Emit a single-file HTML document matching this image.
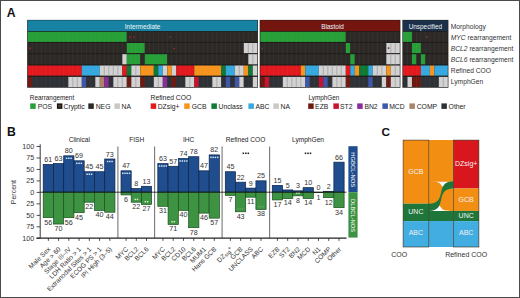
<!DOCTYPE html>
<html><head><meta charset="utf-8"><style>
html,body{margin:0;padding:0;background:#fff;}
body{width:520px;height:298px;overflow:hidden;}
svg{display:block;font-family:"Liberation Sans", sans-serif;}
</style></head><body>
<svg width="520" height="298" viewBox="0 0 520 298">
<rect x="0" y="0" width="520" height="298" fill="#fff"/>
<text x="6.8" y="16.7" font-size="12.2" font-weight="bold" fill="#111">A</text>
<rect x="27.20" y="19.90" width="230.70" height="67.80" fill="#1e1c1a"/>
<rect x="27.80" y="20.30" width="229.50" height="10.80" fill="#1882a2"/>
<text x="142.6" y="28.6" font-size="6.4" fill="#eef6fa" text-anchor="middle">Intermediate</text>
<rect x="27.80" y="31.80" width="99.00" height="10.10" fill="#27a038"/>
<rect x="126.80" y="31.80" width="130.50" height="10.10" fill="#2c2926"/>
<rect x="27.80" y="43.00" width="99.00" height="10.10" fill="#2c2926"/>
<rect x="126.80" y="43.00" width="18.00" height="10.10" fill="#27a038"/>
<rect x="144.80" y="43.00" width="99.00" height="10.10" fill="#2c2926"/>
<rect x="243.80" y="43.00" width="13.50" height="10.10" fill="#d2d2d2"/>
<line x1="248.30" y1="43.00" x2="248.30" y2="53.10" stroke="#a2a2a2" stroke-width="0.7"/>
<line x1="252.80" y1="43.00" x2="252.80" y2="53.10" stroke="#a2a2a2" stroke-width="0.7"/>
<rect x="27.80" y="54.20" width="94.50" height="10.10" fill="#2c2926"/>
<rect x="122.30" y="54.20" width="4.50" height="10.10" fill="#d2d2d2"/>
<rect x="126.80" y="54.20" width="13.50" height="10.10" fill="#27a038"/>
<rect x="140.30" y="54.20" width="4.50" height="10.10" fill="#2c2926"/>
<rect x="144.80" y="54.20" width="22.50" height="10.10" fill="#27a038"/>
<rect x="167.30" y="54.20" width="81.00" height="10.10" fill="#2c2926"/>
<rect x="248.30" y="54.20" width="9.00" height="10.10" fill="#d2d2d2"/>
<line x1="252.80" y1="54.20" x2="252.80" y2="64.30" stroke="#a2a2a2" stroke-width="0.7"/>
<rect x="27.80" y="65.50" width="54.00" height="10.10" fill="#e3191e"/>
<rect x="81.80" y="65.50" width="18.00" height="10.10" fill="#36a9e1"/>
<rect x="99.80" y="65.50" width="22.50" height="10.10" fill="#d2d2d2"/>
<line x1="104.30" y1="65.50" x2="104.30" y2="75.60" stroke="#a2a2a2" stroke-width="0.7"/>
<line x1="108.80" y1="65.50" x2="108.80" y2="75.60" stroke="#a2a2a2" stroke-width="0.7"/>
<line x1="113.30" y1="65.50" x2="113.30" y2="75.60" stroke="#a2a2a2" stroke-width="0.7"/>
<line x1="117.80" y1="65.50" x2="117.80" y2="75.60" stroke="#a2a2a2" stroke-width="0.7"/>
<rect x="122.30" y="65.50" width="4.50" height="10.10" fill="#e3191e"/>
<rect x="126.80" y="65.50" width="4.50" height="10.10" fill="#0f7a35"/>
<rect x="131.30" y="65.50" width="9.00" height="10.10" fill="#d2d2d2"/>
<line x1="135.80" y1="65.50" x2="135.80" y2="75.60" stroke="#a2a2a2" stroke-width="0.7"/>
<rect x="140.30" y="65.50" width="13.50" height="10.10" fill="#f7941d"/>
<rect x="153.80" y="65.50" width="4.50" height="10.10" fill="#0f7a35"/>
<rect x="158.30" y="65.50" width="4.50" height="10.10" fill="#36a9e1"/>
<rect x="162.80" y="65.50" width="4.50" height="10.10" fill="#d2d2d2"/>
<rect x="167.30" y="65.50" width="4.50" height="10.10" fill="#f7941d"/>
<rect x="171.80" y="65.50" width="4.50" height="10.10" fill="#d2d2d2"/>
<rect x="176.30" y="65.50" width="18.00" height="10.10" fill="#e3191e"/>
<rect x="194.30" y="65.50" width="27.00" height="10.10" fill="#f7941d"/>
<rect x="221.30" y="65.50" width="4.50" height="10.10" fill="#0f7a35"/>
<rect x="225.80" y="65.50" width="9.00" height="10.10" fill="#36a9e1"/>
<rect x="234.80" y="65.50" width="9.00" height="10.10" fill="#d2d2d2"/>
<line x1="239.30" y1="65.50" x2="239.30" y2="75.60" stroke="#a2a2a2" stroke-width="0.7"/>
<rect x="243.80" y="65.50" width="4.50" height="10.10" fill="#f7941d"/>
<rect x="248.30" y="65.50" width="4.50" height="10.10" fill="#0f7a35"/>
<rect x="252.80" y="65.50" width="4.50" height="10.10" fill="#d2d2d2"/>
<rect x="27.80" y="76.90" width="4.50" height="10.10" fill="#6e1a12"/>
<rect x="32.30" y="76.90" width="36.00" height="10.10" fill="#2e3236"/>
<rect x="68.30" y="76.90" width="13.50" height="10.10" fill="#d2d2d2"/>
<line x1="72.80" y1="76.90" x2="72.80" y2="87.00" stroke="#a2a2a2" stroke-width="0.7"/>
<line x1="77.30" y1="76.90" x2="77.30" y2="87.00" stroke="#a2a2a2" stroke-width="0.7"/>
<rect x="81.80" y="76.90" width="4.50" height="10.10" fill="#3d57ad"/>
<rect x="86.30" y="76.90" width="9.00" height="10.10" fill="#2e3236"/>
<rect x="95.30" y="76.90" width="4.50" height="10.10" fill="#d2d2d2"/>
<rect x="99.80" y="76.90" width="4.50" height="10.10" fill="#a98467"/>
<rect x="104.30" y="76.90" width="4.50" height="10.10" fill="#8b2c9c"/>
<rect x="108.80" y="76.90" width="4.50" height="10.10" fill="#2e3236"/>
<rect x="113.30" y="76.90" width="13.50" height="10.10" fill="#d2d2d2"/>
<line x1="117.80" y1="76.90" x2="117.80" y2="87.00" stroke="#a2a2a2" stroke-width="0.7"/>
<line x1="122.30" y1="76.90" x2="122.30" y2="87.00" stroke="#a2a2a2" stroke-width="0.7"/>
<rect x="126.80" y="76.90" width="4.50" height="10.10" fill="#6e1a12"/>
<rect x="131.30" y="76.90" width="9.00" height="10.10" fill="#d2d2d2"/>
<line x1="135.80" y1="76.90" x2="135.80" y2="87.00" stroke="#a2a2a2" stroke-width="0.7"/>
<rect x="140.30" y="76.90" width="4.50" height="10.10" fill="#6e1a12"/>
<rect x="144.80" y="76.90" width="9.00" height="10.10" fill="#2e3236"/>
<rect x="153.80" y="76.90" width="9.00" height="10.10" fill="#d2d2d2"/>
<line x1="158.30" y1="76.90" x2="158.30" y2="87.00" stroke="#a2a2a2" stroke-width="0.7"/>
<rect x="162.80" y="76.90" width="4.50" height="10.10" fill="#8b2c9c"/>
<rect x="167.30" y="76.90" width="4.50" height="10.10" fill="#2e3236"/>
<rect x="171.80" y="76.90" width="4.50" height="10.10" fill="#6e1a12"/>
<rect x="176.30" y="76.90" width="9.00" height="10.10" fill="#2e3236"/>
<rect x="185.30" y="76.90" width="9.00" height="10.10" fill="#d2d2d2"/>
<line x1="189.80" y1="76.90" x2="189.80" y2="87.00" stroke="#a2a2a2" stroke-width="0.7"/>
<rect x="194.30" y="76.90" width="4.50" height="10.10" fill="#c8132f"/>
<rect x="198.80" y="76.90" width="13.50" height="10.10" fill="#2e3236"/>
<rect x="212.30" y="76.90" width="9.00" height="10.10" fill="#d2d2d2"/>
<line x1="216.80" y1="76.90" x2="216.80" y2="87.00" stroke="#a2a2a2" stroke-width="0.7"/>
<rect x="221.30" y="76.90" width="4.50" height="10.10" fill="#2e3236"/>
<rect x="225.80" y="76.90" width="4.50" height="10.10" fill="#3d57ad"/>
<rect x="230.30" y="76.90" width="4.50" height="10.10" fill="#2e3236"/>
<rect x="234.80" y="76.90" width="4.50" height="10.10" fill="#3d57ad"/>
<rect x="239.30" y="76.90" width="4.50" height="10.10" fill="#d2d2d2"/>
<rect x="243.80" y="76.90" width="9.00" height="10.10" fill="#2e3236"/>
<rect x="252.80" y="76.90" width="4.50" height="10.10" fill="#d2d2d2"/>
<line x1="32.30" y1="31.80" x2="32.30" y2="87.00" stroke="#9a9a9a" stroke-opacity="0.15" stroke-width="0.6"/>
<line x1="36.80" y1="31.80" x2="36.80" y2="87.00" stroke="#9a9a9a" stroke-opacity="0.15" stroke-width="0.6"/>
<line x1="41.30" y1="31.80" x2="41.30" y2="87.00" stroke="#9a9a9a" stroke-opacity="0.15" stroke-width="0.6"/>
<line x1="45.80" y1="31.80" x2="45.80" y2="87.00" stroke="#9a9a9a" stroke-opacity="0.15" stroke-width="0.6"/>
<line x1="50.30" y1="31.80" x2="50.30" y2="87.00" stroke="#9a9a9a" stroke-opacity="0.15" stroke-width="0.6"/>
<line x1="54.80" y1="31.80" x2="54.80" y2="87.00" stroke="#9a9a9a" stroke-opacity="0.15" stroke-width="0.6"/>
<line x1="59.30" y1="31.80" x2="59.30" y2="87.00" stroke="#9a9a9a" stroke-opacity="0.15" stroke-width="0.6"/>
<line x1="63.80" y1="31.80" x2="63.80" y2="87.00" stroke="#9a9a9a" stroke-opacity="0.15" stroke-width="0.6"/>
<line x1="68.30" y1="31.80" x2="68.30" y2="87.00" stroke="#9a9a9a" stroke-opacity="0.15" stroke-width="0.6"/>
<line x1="72.80" y1="31.80" x2="72.80" y2="87.00" stroke="#9a9a9a" stroke-opacity="0.15" stroke-width="0.6"/>
<line x1="77.30" y1="31.80" x2="77.30" y2="87.00" stroke="#9a9a9a" stroke-opacity="0.15" stroke-width="0.6"/>
<line x1="81.80" y1="31.80" x2="81.80" y2="87.00" stroke="#9a9a9a" stroke-opacity="0.15" stroke-width="0.6"/>
<line x1="86.30" y1="31.80" x2="86.30" y2="87.00" stroke="#9a9a9a" stroke-opacity="0.15" stroke-width="0.6"/>
<line x1="90.80" y1="31.80" x2="90.80" y2="87.00" stroke="#9a9a9a" stroke-opacity="0.15" stroke-width="0.6"/>
<line x1="95.30" y1="31.80" x2="95.30" y2="87.00" stroke="#9a9a9a" stroke-opacity="0.15" stroke-width="0.6"/>
<line x1="99.80" y1="31.80" x2="99.80" y2="87.00" stroke="#9a9a9a" stroke-opacity="0.15" stroke-width="0.6"/>
<line x1="104.30" y1="31.80" x2="104.30" y2="87.00" stroke="#9a9a9a" stroke-opacity="0.15" stroke-width="0.6"/>
<line x1="108.80" y1="31.80" x2="108.80" y2="87.00" stroke="#9a9a9a" stroke-opacity="0.15" stroke-width="0.6"/>
<line x1="113.30" y1="31.80" x2="113.30" y2="87.00" stroke="#9a9a9a" stroke-opacity="0.15" stroke-width="0.6"/>
<line x1="117.80" y1="31.80" x2="117.80" y2="87.00" stroke="#9a9a9a" stroke-opacity="0.15" stroke-width="0.6"/>
<line x1="122.30" y1="31.80" x2="122.30" y2="87.00" stroke="#9a9a9a" stroke-opacity="0.15" stroke-width="0.6"/>
<line x1="126.80" y1="31.80" x2="126.80" y2="87.00" stroke="#9a9a9a" stroke-opacity="0.15" stroke-width="0.6"/>
<line x1="131.30" y1="31.80" x2="131.30" y2="87.00" stroke="#9a9a9a" stroke-opacity="0.15" stroke-width="0.6"/>
<line x1="135.80" y1="31.80" x2="135.80" y2="87.00" stroke="#9a9a9a" stroke-opacity="0.15" stroke-width="0.6"/>
<line x1="140.30" y1="31.80" x2="140.30" y2="87.00" stroke="#9a9a9a" stroke-opacity="0.15" stroke-width="0.6"/>
<line x1="144.80" y1="31.80" x2="144.80" y2="87.00" stroke="#9a9a9a" stroke-opacity="0.15" stroke-width="0.6"/>
<line x1="149.30" y1="31.80" x2="149.30" y2="87.00" stroke="#9a9a9a" stroke-opacity="0.15" stroke-width="0.6"/>
<line x1="153.80" y1="31.80" x2="153.80" y2="87.00" stroke="#9a9a9a" stroke-opacity="0.15" stroke-width="0.6"/>
<line x1="158.30" y1="31.80" x2="158.30" y2="87.00" stroke="#9a9a9a" stroke-opacity="0.15" stroke-width="0.6"/>
<line x1="162.80" y1="31.80" x2="162.80" y2="87.00" stroke="#9a9a9a" stroke-opacity="0.15" stroke-width="0.6"/>
<line x1="167.30" y1="31.80" x2="167.30" y2="87.00" stroke="#9a9a9a" stroke-opacity="0.15" stroke-width="0.6"/>
<line x1="171.80" y1="31.80" x2="171.80" y2="87.00" stroke="#9a9a9a" stroke-opacity="0.15" stroke-width="0.6"/>
<line x1="176.30" y1="31.80" x2="176.30" y2="87.00" stroke="#9a9a9a" stroke-opacity="0.15" stroke-width="0.6"/>
<line x1="180.80" y1="31.80" x2="180.80" y2="87.00" stroke="#9a9a9a" stroke-opacity="0.15" stroke-width="0.6"/>
<line x1="185.30" y1="31.80" x2="185.30" y2="87.00" stroke="#9a9a9a" stroke-opacity="0.15" stroke-width="0.6"/>
<line x1="189.80" y1="31.80" x2="189.80" y2="87.00" stroke="#9a9a9a" stroke-opacity="0.15" stroke-width="0.6"/>
<line x1="194.30" y1="31.80" x2="194.30" y2="87.00" stroke="#9a9a9a" stroke-opacity="0.15" stroke-width="0.6"/>
<line x1="198.80" y1="31.80" x2="198.80" y2="87.00" stroke="#9a9a9a" stroke-opacity="0.15" stroke-width="0.6"/>
<line x1="203.30" y1="31.80" x2="203.30" y2="87.00" stroke="#9a9a9a" stroke-opacity="0.15" stroke-width="0.6"/>
<line x1="207.80" y1="31.80" x2="207.80" y2="87.00" stroke="#9a9a9a" stroke-opacity="0.15" stroke-width="0.6"/>
<line x1="212.30" y1="31.80" x2="212.30" y2="87.00" stroke="#9a9a9a" stroke-opacity="0.15" stroke-width="0.6"/>
<line x1="216.80" y1="31.80" x2="216.80" y2="87.00" stroke="#9a9a9a" stroke-opacity="0.15" stroke-width="0.6"/>
<line x1="221.30" y1="31.80" x2="221.30" y2="87.00" stroke="#9a9a9a" stroke-opacity="0.15" stroke-width="0.6"/>
<line x1="225.80" y1="31.80" x2="225.80" y2="87.00" stroke="#9a9a9a" stroke-opacity="0.15" stroke-width="0.6"/>
<line x1="230.30" y1="31.80" x2="230.30" y2="87.00" stroke="#9a9a9a" stroke-opacity="0.15" stroke-width="0.6"/>
<line x1="234.80" y1="31.80" x2="234.80" y2="87.00" stroke="#9a9a9a" stroke-opacity="0.15" stroke-width="0.6"/>
<line x1="239.30" y1="31.80" x2="239.30" y2="87.00" stroke="#9a9a9a" stroke-opacity="0.15" stroke-width="0.6"/>
<line x1="243.80" y1="31.80" x2="243.80" y2="87.00" stroke="#9a9a9a" stroke-opacity="0.15" stroke-width="0.6"/>
<line x1="248.30" y1="31.80" x2="248.30" y2="87.00" stroke="#9a9a9a" stroke-opacity="0.15" stroke-width="0.6"/>
<line x1="252.80" y1="31.80" x2="252.80" y2="87.00" stroke="#9a9a9a" stroke-opacity="0.15" stroke-width="0.6"/>
<rect x="259.70" y="19.90" width="140.70" height="67.80" fill="#1e1c1a"/>
<rect x="260.30" y="20.30" width="139.50" height="10.80" fill="#741510"/>
<text x="332.5" y="28.6" font-size="6.4" fill="#eef6fa" text-anchor="middle">Blastoid</text>
<rect x="260.30" y="31.80" width="85.50" height="10.10" fill="#27a038"/>
<rect x="345.80" y="31.80" width="54.00" height="10.10" fill="#2c2926"/>
<rect x="260.30" y="43.00" width="85.50" height="10.10" fill="#2c2926"/>
<rect x="345.80" y="43.00" width="4.50" height="10.10" fill="#27a038"/>
<rect x="350.30" y="43.00" width="36.00" height="10.10" fill="#2c2926"/>
<rect x="386.30" y="43.00" width="13.50" height="10.10" fill="#d2d2d2"/>
<line x1="390.80" y1="43.00" x2="390.80" y2="53.10" stroke="#a2a2a2" stroke-width="0.7"/>
<line x1="395.30" y1="43.00" x2="395.30" y2="53.10" stroke="#a2a2a2" stroke-width="0.7"/>
<rect x="260.30" y="54.20" width="90.00" height="10.10" fill="#2c2926"/>
<rect x="350.30" y="54.20" width="4.50" height="10.10" fill="#27a038"/>
<rect x="354.80" y="54.20" width="31.50" height="10.10" fill="#2c2926"/>
<rect x="386.30" y="54.20" width="13.50" height="10.10" fill="#d2d2d2"/>
<line x1="390.80" y1="54.20" x2="390.80" y2="64.30" stroke="#a2a2a2" stroke-width="0.7"/>
<line x1="395.30" y1="54.20" x2="395.30" y2="64.30" stroke="#a2a2a2" stroke-width="0.7"/>
<rect x="260.30" y="65.50" width="40.50" height="10.10" fill="#e3191e"/>
<rect x="300.80" y="65.50" width="4.50" height="10.10" fill="#f7941d"/>
<rect x="305.30" y="65.50" width="13.50" height="10.10" fill="#36a9e1"/>
<rect x="318.80" y="65.50" width="27.00" height="10.10" fill="#d2d2d2"/>
<line x1="323.30" y1="65.50" x2="323.30" y2="75.60" stroke="#a2a2a2" stroke-width="0.7"/>
<line x1="327.80" y1="65.50" x2="327.80" y2="75.60" stroke="#a2a2a2" stroke-width="0.7"/>
<line x1="332.30" y1="65.50" x2="332.30" y2="75.60" stroke="#a2a2a2" stroke-width="0.7"/>
<line x1="336.80" y1="65.50" x2="336.80" y2="75.60" stroke="#a2a2a2" stroke-width="0.7"/>
<line x1="341.30" y1="65.50" x2="341.30" y2="75.60" stroke="#a2a2a2" stroke-width="0.7"/>
<rect x="345.80" y="65.50" width="4.50" height="10.10" fill="#e3191e"/>
<rect x="350.30" y="65.50" width="4.50" height="10.10" fill="#36a9e1"/>
<rect x="354.80" y="65.50" width="4.50" height="10.10" fill="#f7941d"/>
<rect x="359.30" y="65.50" width="9.00" height="10.10" fill="#0f7a35"/>
<rect x="368.30" y="65.50" width="4.50" height="10.10" fill="#36a9e1"/>
<rect x="372.80" y="65.50" width="13.50" height="10.10" fill="#d2d2d2"/>
<line x1="377.30" y1="65.50" x2="377.30" y2="75.60" stroke="#a2a2a2" stroke-width="0.7"/>
<line x1="381.80" y1="65.50" x2="381.80" y2="75.60" stroke="#a2a2a2" stroke-width="0.7"/>
<rect x="386.30" y="65.50" width="4.50" height="10.10" fill="#f7941d"/>
<rect x="390.80" y="65.50" width="9.00" height="10.10" fill="#d2d2d2"/>
<line x1="395.30" y1="65.50" x2="395.30" y2="75.60" stroke="#a2a2a2" stroke-width="0.7"/>
<rect x="260.30" y="76.90" width="4.50" height="10.10" fill="#6e1a12"/>
<rect x="264.80" y="76.90" width="4.50" height="10.10" fill="#c8132f"/>
<rect x="269.30" y="76.90" width="13.50" height="10.10" fill="#2e3236"/>
<rect x="282.80" y="76.90" width="22.50" height="10.10" fill="#d2d2d2"/>
<line x1="287.30" y1="76.90" x2="287.30" y2="87.00" stroke="#a2a2a2" stroke-width="0.7"/>
<line x1="291.80" y1="76.90" x2="291.80" y2="87.00" stroke="#a2a2a2" stroke-width="0.7"/>
<line x1="296.30" y1="76.90" x2="296.30" y2="87.00" stroke="#a2a2a2" stroke-width="0.7"/>
<line x1="300.80" y1="76.90" x2="300.80" y2="87.00" stroke="#a2a2a2" stroke-width="0.7"/>
<rect x="305.30" y="76.90" width="4.50" height="10.10" fill="#3d57ad"/>
<rect x="309.80" y="76.90" width="9.00" height="10.10" fill="#2e3236"/>
<rect x="318.80" y="76.90" width="4.50" height="10.10" fill="#c8132f"/>
<rect x="323.30" y="76.90" width="4.50" height="10.10" fill="#3d57ad"/>
<rect x="327.80" y="76.90" width="4.50" height="10.10" fill="#2e3236"/>
<rect x="332.30" y="76.90" width="13.50" height="10.10" fill="#d2d2d2"/>
<line x1="336.80" y1="76.90" x2="336.80" y2="87.00" stroke="#a2a2a2" stroke-width="0.7"/>
<line x1="341.30" y1="76.90" x2="341.30" y2="87.00" stroke="#a2a2a2" stroke-width="0.7"/>
<rect x="345.80" y="76.90" width="4.50" height="10.10" fill="#6e1a12"/>
<rect x="350.30" y="76.90" width="18.00" height="10.10" fill="#2e3236"/>
<rect x="368.30" y="76.90" width="4.50" height="10.10" fill="#3d57ad"/>
<rect x="372.80" y="76.90" width="9.00" height="10.10" fill="#2e3236"/>
<rect x="381.80" y="76.90" width="4.50" height="10.10" fill="#d2d2d2"/>
<rect x="386.30" y="76.90" width="4.50" height="10.10" fill="#6e1a12"/>
<rect x="390.80" y="76.90" width="9.00" height="10.10" fill="#d2d2d2"/>
<line x1="395.30" y1="76.90" x2="395.30" y2="87.00" stroke="#a2a2a2" stroke-width="0.7"/>
<line x1="264.80" y1="31.80" x2="264.80" y2="87.00" stroke="#9a9a9a" stroke-opacity="0.15" stroke-width="0.6"/>
<line x1="269.30" y1="31.80" x2="269.30" y2="87.00" stroke="#9a9a9a" stroke-opacity="0.15" stroke-width="0.6"/>
<line x1="273.80" y1="31.80" x2="273.80" y2="87.00" stroke="#9a9a9a" stroke-opacity="0.15" stroke-width="0.6"/>
<line x1="278.30" y1="31.80" x2="278.30" y2="87.00" stroke="#9a9a9a" stroke-opacity="0.15" stroke-width="0.6"/>
<line x1="282.80" y1="31.80" x2="282.80" y2="87.00" stroke="#9a9a9a" stroke-opacity="0.15" stroke-width="0.6"/>
<line x1="287.30" y1="31.80" x2="287.30" y2="87.00" stroke="#9a9a9a" stroke-opacity="0.15" stroke-width="0.6"/>
<line x1="291.80" y1="31.80" x2="291.80" y2="87.00" stroke="#9a9a9a" stroke-opacity="0.15" stroke-width="0.6"/>
<line x1="296.30" y1="31.80" x2="296.30" y2="87.00" stroke="#9a9a9a" stroke-opacity="0.15" stroke-width="0.6"/>
<line x1="300.80" y1="31.80" x2="300.80" y2="87.00" stroke="#9a9a9a" stroke-opacity="0.15" stroke-width="0.6"/>
<line x1="305.30" y1="31.80" x2="305.30" y2="87.00" stroke="#9a9a9a" stroke-opacity="0.15" stroke-width="0.6"/>
<line x1="309.80" y1="31.80" x2="309.80" y2="87.00" stroke="#9a9a9a" stroke-opacity="0.15" stroke-width="0.6"/>
<line x1="314.30" y1="31.80" x2="314.30" y2="87.00" stroke="#9a9a9a" stroke-opacity="0.15" stroke-width="0.6"/>
<line x1="318.80" y1="31.80" x2="318.80" y2="87.00" stroke="#9a9a9a" stroke-opacity="0.15" stroke-width="0.6"/>
<line x1="323.30" y1="31.80" x2="323.30" y2="87.00" stroke="#9a9a9a" stroke-opacity="0.15" stroke-width="0.6"/>
<line x1="327.80" y1="31.80" x2="327.80" y2="87.00" stroke="#9a9a9a" stroke-opacity="0.15" stroke-width="0.6"/>
<line x1="332.30" y1="31.80" x2="332.30" y2="87.00" stroke="#9a9a9a" stroke-opacity="0.15" stroke-width="0.6"/>
<line x1="336.80" y1="31.80" x2="336.80" y2="87.00" stroke="#9a9a9a" stroke-opacity="0.15" stroke-width="0.6"/>
<line x1="341.30" y1="31.80" x2="341.30" y2="87.00" stroke="#9a9a9a" stroke-opacity="0.15" stroke-width="0.6"/>
<line x1="345.80" y1="31.80" x2="345.80" y2="87.00" stroke="#9a9a9a" stroke-opacity="0.15" stroke-width="0.6"/>
<line x1="350.30" y1="31.80" x2="350.30" y2="87.00" stroke="#9a9a9a" stroke-opacity="0.15" stroke-width="0.6"/>
<line x1="354.80" y1="31.80" x2="354.80" y2="87.00" stroke="#9a9a9a" stroke-opacity="0.15" stroke-width="0.6"/>
<line x1="359.30" y1="31.80" x2="359.30" y2="87.00" stroke="#9a9a9a" stroke-opacity="0.15" stroke-width="0.6"/>
<line x1="363.80" y1="31.80" x2="363.80" y2="87.00" stroke="#9a9a9a" stroke-opacity="0.15" stroke-width="0.6"/>
<line x1="368.30" y1="31.80" x2="368.30" y2="87.00" stroke="#9a9a9a" stroke-opacity="0.15" stroke-width="0.6"/>
<line x1="372.80" y1="31.80" x2="372.80" y2="87.00" stroke="#9a9a9a" stroke-opacity="0.15" stroke-width="0.6"/>
<line x1="377.30" y1="31.80" x2="377.30" y2="87.00" stroke="#9a9a9a" stroke-opacity="0.15" stroke-width="0.6"/>
<line x1="381.80" y1="31.80" x2="381.80" y2="87.00" stroke="#9a9a9a" stroke-opacity="0.15" stroke-width="0.6"/>
<line x1="386.30" y1="31.80" x2="386.30" y2="87.00" stroke="#9a9a9a" stroke-opacity="0.15" stroke-width="0.6"/>
<line x1="390.80" y1="31.80" x2="390.80" y2="87.00" stroke="#9a9a9a" stroke-opacity="0.15" stroke-width="0.6"/>
<line x1="395.30" y1="31.80" x2="395.30" y2="87.00" stroke="#9a9a9a" stroke-opacity="0.15" stroke-width="0.6"/>
<rect x="402.40" y="19.90" width="46.00" height="67.80" fill="#1e1c1a"/>
<rect x="403.00" y="20.30" width="44.80" height="10.80" fill="#1c3149"/>
<text x="425.4" y="28.6" font-size="6.4" fill="#eef6fa" text-anchor="middle">Unspecified</text>
<rect x="403.00" y="31.80" width="8.96" height="10.10" fill="#27a038"/>
<rect x="411.96" y="31.80" width="35.84" height="10.10" fill="#2c2926"/>
<rect x="403.00" y="43.00" width="8.96" height="10.10" fill="#2c2926"/>
<rect x="411.96" y="43.00" width="8.96" height="10.10" fill="#27a038"/>
<rect x="420.92" y="43.00" width="26.88" height="10.10" fill="#2c2926"/>
<rect x="403.00" y="54.20" width="8.96" height="10.10" fill="#2c2926"/>
<rect x="411.96" y="54.20" width="4.48" height="10.10" fill="#27a038"/>
<rect x="416.44" y="54.20" width="4.48" height="10.10" fill="#2c2926"/>
<rect x="420.92" y="54.20" width="4.48" height="10.10" fill="#27a038"/>
<rect x="425.40" y="54.20" width="22.40" height="10.10" fill="#2c2926"/>
<rect x="403.00" y="65.50" width="17.92" height="10.10" fill="#e3191e"/>
<rect x="420.92" y="65.50" width="8.96" height="10.10" fill="#36a9e1"/>
<rect x="429.88" y="65.50" width="4.48" height="10.10" fill="#f7941d"/>
<rect x="434.36" y="65.50" width="13.44" height="10.10" fill="#36a9e1"/>
<rect x="403.00" y="76.90" width="4.48" height="10.10" fill="#2e3236"/>
<rect x="407.48" y="76.90" width="4.48" height="10.10" fill="#d2d2d2"/>
<rect x="411.96" y="76.90" width="8.96" height="10.10" fill="#6e1a12"/>
<rect x="420.92" y="76.90" width="17.92" height="10.10" fill="#2e3236"/>
<rect x="438.84" y="76.90" width="8.96" height="10.10" fill="#d2d2d2"/>
<line x1="443.32" y1="76.90" x2="443.32" y2="87.00" stroke="#a2a2a2" stroke-width="0.7"/>
<line x1="407.48" y1="31.80" x2="407.48" y2="87.00" stroke="#9a9a9a" stroke-opacity="0.15" stroke-width="0.6"/>
<line x1="411.96" y1="31.80" x2="411.96" y2="87.00" stroke="#9a9a9a" stroke-opacity="0.15" stroke-width="0.6"/>
<line x1="416.44" y1="31.80" x2="416.44" y2="87.00" stroke="#9a9a9a" stroke-opacity="0.15" stroke-width="0.6"/>
<line x1="420.92" y1="31.80" x2="420.92" y2="87.00" stroke="#9a9a9a" stroke-opacity="0.15" stroke-width="0.6"/>
<line x1="425.40" y1="31.80" x2="425.40" y2="87.00" stroke="#9a9a9a" stroke-opacity="0.15" stroke-width="0.6"/>
<line x1="429.88" y1="31.80" x2="429.88" y2="87.00" stroke="#9a9a9a" stroke-opacity="0.15" stroke-width="0.6"/>
<line x1="434.36" y1="31.80" x2="434.36" y2="87.00" stroke="#9a9a9a" stroke-opacity="0.15" stroke-width="0.6"/>
<line x1="438.84" y1="31.80" x2="438.84" y2="87.00" stroke="#9a9a9a" stroke-opacity="0.15" stroke-width="0.6"/>
<line x1="443.32" y1="31.80" x2="443.32" y2="87.00" stroke="#9a9a9a" stroke-opacity="0.15" stroke-width="0.6"/>
<circle cx="129.8" cy="37.0" r="0.85" fill="#a8282c"/>
<circle cx="133.8" cy="37.0" r="0.85" fill="#a8282c"/>
<circle cx="169.8" cy="37.0" r="0.85" fill="#6a4a4c"/>
<circle cx="30.0" cy="48.2" r="0.85" fill="#a8282c"/>
<circle cx="174.2" cy="48.4" r="0.85" fill="#a8282c"/>
<circle cx="262.2" cy="48.4" r="0.85" fill="#6a3a3c"/>
<circle cx="427.0" cy="36.8" r="0.85" fill="#8a3a3c"/>
<circle cx="388.6" cy="48.1" r="0.9" fill="#6a2020"/>
<text x="450.8" y="28.60" font-size="6.7" fill="#333">Morphology</text>
<text x="450.8" y="39.65" font-size="6.7" fill="#333"><tspan font-style="italic">MYC</tspan> rearrangement</text>
<text x="450.8" y="50.70" font-size="6.7" fill="#333"><tspan font-style="italic">BCL2</tspan> rearrangement</text>
<text x="450.8" y="61.75" font-size="6.7" fill="#333"><tspan font-style="italic">BCL6</tspan> rearrangement</text>
<text x="450.8" y="72.80" font-size="6.7" fill="#333">Refined COO</text>
<text x="450.8" y="83.85" font-size="6.7" fill="#333">LymphGen</text>
<text x="29.8" y="99.7" font-size="6.4" fill="#222">Rearrangement</text>
<rect x="30.2" y="103.4" width="5.5" height="5.5" fill="#27a038"/>
<text x="37.7" y="108.7" font-size="6.8" fill="#222">POS</text>
<rect x="56.9" y="103.4" width="5.5" height="5.5" fill="#1c1818"/>
<text x="63.5" y="108.7" font-size="6.8" fill="#222">Cryptic</text>
<rect x="88.3" y="103.4" width="5.5" height="5.5" fill="#2c2926"/>
<text x="95.7" y="108.7" font-size="6.8" fill="#222">NEG</text>
<rect x="114.4" y="103.4" width="5.5" height="5.5" fill="#c8c8c8"/>
<text x="121.6" y="108.7" font-size="6.8" fill="#222">NA</text>
<rect x="58.4" y="104.9" width="2.5" height="2.5" fill="#4a3a38"/>
<text x="150.6" y="99.7" font-size="6.4" fill="#222" textLength="40.6" lengthAdjust="spacingAndGlyphs">Refined COO</text>
<rect x="150.7" y="103.4" width="5.5" height="5.5" fill="#e3191e"/>
<text x="157.7" y="108.7" font-size="6.8" fill="#222">DZsig+</text>
<rect x="184.2" y="103.4" width="5.5" height="5.5" fill="#f7941d"/>
<text x="191.7" y="108.7" font-size="6.8" fill="#222">GCB</text>
<rect x="211.4" y="103.4" width="5.5" height="5.5" fill="#0f7a35"/>
<text x="218.5" y="108.7" font-size="6.8" fill="#222">Unclass</text>
<rect x="248.4" y="103.4" width="5.5" height="5.5" fill="#36a9e1"/>
<text x="255.4" y="108.7" font-size="6.8" fill="#222">ABC</text>
<rect x="273.4" y="103.4" width="5.5" height="5.5" fill="#c8c8c8"/>
<text x="280.5" y="108.7" font-size="6.8" fill="#222">NA</text>
<text x="308.4" y="99.7" font-size="6.4" fill="#222">LymphGen</text>
<rect x="308.2" y="103.4" width="5.5" height="5.5" fill="#6e1a12"/>
<text x="315.1" y="108.7" font-size="6.8" fill="#222">EZB</text>
<rect x="333.4" y="103.4" width="5.5" height="5.5" fill="#c8132f"/>
<text x="340.0" y="108.7" font-size="6.8" fill="#222">ST2</text>
<rect x="357.2" y="103.4" width="5.5" height="5.5" fill="#8b2c9c"/>
<text x="364.4" y="108.7" font-size="6.8" fill="#222">BN2</text>
<rect x="382.4" y="103.4" width="5.5" height="5.5" fill="#3d57ad"/>
<text x="389.2" y="108.7" font-size="6.8" fill="#222">MCD</text>
<rect x="409.4" y="103.4" width="5.5" height="5.5" fill="#a98467"/>
<text x="416.7" y="108.7" font-size="6.8" fill="#222">COMP</text>
<rect x="441.4" y="103.4" width="5.5" height="5.5" fill="#2e3236"/>
<text x="448.6" y="108.7" font-size="6.8" fill="#222">Other</text>
<text x="6.9" y="135.6" font-size="12.2" font-weight="bold" fill="#111">B</text>
<text x="79.3" y="141.6" font-size="6.6" fill="#222" text-anchor="middle">Clinical</text>
<rect x="43.20" y="164.44" width="10.25" height="27.76" fill="#1f4d8d" stroke="#0c2347" stroke-width="0.7"/>
<text transform="translate(48.33 162.04) scale(1.1 1)" font-size="6.5" fill="#333" text-anchor="middle">61</text>
<rect x="53.45" y="163.53" width="10.25" height="28.67" fill="#1f4d8d" stroke="#0c2347" stroke-width="0.7"/>
<text transform="translate(58.58 161.13) scale(1.1 1)" font-size="6.5" fill="#333" text-anchor="middle">63</text>
<rect x="63.70" y="155.80" width="10.25" height="36.40" fill="#1f4d8d" stroke="#0c2347" stroke-width="0.7"/>
<text transform="translate(68.83 153.40) scale(1.1 1)" font-size="6.5" fill="#333" text-anchor="middle">80</text>
<rect x="65.85" y="157.57" width="1.45" height="1.45" fill="#dce8f8"/>
<rect x="68.10" y="157.57" width="1.45" height="1.45" fill="#dce8f8"/>
<rect x="70.35" y="157.57" width="1.45" height="1.45" fill="#dce8f8"/>
<rect x="73.95" y="160.80" width="10.25" height="31.39" fill="#1f4d8d" stroke="#0c2347" stroke-width="0.7"/>
<text transform="translate(79.08 158.40) scale(1.1 1)" font-size="6.5" fill="#333" text-anchor="middle">69</text>
<rect x="76.10" y="162.58" width="1.45" height="1.45" fill="#dce8f8"/>
<rect x="78.35" y="162.58" width="1.45" height="1.45" fill="#dce8f8"/>
<rect x="80.60" y="162.58" width="1.45" height="1.45" fill="#dce8f8"/>
<rect x="84.20" y="171.72" width="10.25" height="20.48" fill="#1f4d8d" stroke="#0c2347" stroke-width="0.7"/>
<text transform="translate(89.33 169.32) scale(1.1 1)" font-size="6.5" fill="#333" text-anchor="middle">45</text>
<rect x="86.35" y="173.50" width="1.45" height="1.45" fill="#dce8f8"/>
<rect x="88.60" y="173.50" width="1.45" height="1.45" fill="#dce8f8"/>
<rect x="90.85" y="173.50" width="1.45" height="1.45" fill="#dce8f8"/>
<rect x="94.45" y="171.72" width="10.25" height="20.48" fill="#1f4d8d" stroke="#0c2347" stroke-width="0.7"/>
<text transform="translate(99.58 169.32) scale(1.1 1)" font-size="6.5" fill="#333" text-anchor="middle">45</text>
<rect x="104.70" y="158.98" width="10.25" height="33.22" fill="#1f4d8d" stroke="#0c2347" stroke-width="0.7"/>
<text transform="translate(109.83 156.58) scale(1.1 1)" font-size="6.5" fill="#333" text-anchor="middle">73</text>
<rect x="106.85" y="160.76" width="1.45" height="1.45" fill="#dce8f8"/>
<rect x="109.10" y="160.76" width="1.45" height="1.45" fill="#dce8f8"/>
<rect x="111.35" y="160.76" width="1.45" height="1.45" fill="#dce8f8"/>
<rect x="43.20" y="192.20" width="10.25" height="25.48" fill="#3e9343" stroke="#1a4f1d" stroke-width="0.7"/>
<text transform="translate(48.33 224.58) scale(1.1 1)" font-size="6.5" fill="#333" text-anchor="middle">56</text>
<rect x="53.45" y="192.20" width="10.25" height="31.85" fill="#3e9343" stroke="#1a4f1d" stroke-width="0.7"/>
<text transform="translate(58.58 230.95) scale(1.1 1)" font-size="6.5" fill="#333" text-anchor="middle">70</text>
<rect x="63.70" y="192.20" width="10.25" height="25.48" fill="#3e9343" stroke="#1a4f1d" stroke-width="0.7"/>
<text transform="translate(68.83 224.58) scale(1.1 1)" font-size="6.5" fill="#333" text-anchor="middle">56</text>
<rect x="73.95" y="192.20" width="10.25" height="20.48" fill="#3e9343" stroke="#1a4f1d" stroke-width="0.7"/>
<text transform="translate(79.08 219.57) scale(1.1 1)" font-size="6.5" fill="#333" text-anchor="middle">45</text>
<rect x="84.20" y="192.20" width="10.25" height="10.01" fill="#3e9343" stroke="#1a4f1d" stroke-width="0.7"/>
<text transform="translate(89.33 209.11) scale(1.1 1)" font-size="6.5" fill="#333" text-anchor="middle">22</text>
<rect x="94.45" y="192.20" width="10.25" height="18.20" fill="#3e9343" stroke="#1a4f1d" stroke-width="0.7"/>
<text transform="translate(99.58 217.30) scale(1.1 1)" font-size="6.5" fill="#333" text-anchor="middle">40</text>
<rect x="104.70" y="192.20" width="10.25" height="20.02" fill="#3e9343" stroke="#1a4f1d" stroke-width="0.7"/>
<text transform="translate(109.83 219.12) scale(1.1 1)" font-size="6.5" fill="#333" text-anchor="middle">44</text>
<line x1="40.2" y1="144.3" x2="40.2" y2="238.1" stroke="#222" stroke-width="0.9"/>
<line x1="48.33" y1="238.1" x2="48.33" y2="240.9" stroke="#222" stroke-width="0.8"/>
<text x="50.93" y="249.60" font-size="6.65" fill="#333" text-anchor="end" transform="rotate(-45 50.93 249.60)">Male Sex</text>
<line x1="58.58" y1="238.1" x2="58.58" y2="240.9" stroke="#222" stroke-width="0.8"/>
<text x="61.18" y="249.60" font-size="6.65" fill="#333" text-anchor="end" transform="rotate(-45 61.18 249.60)">Age &gt; 60</text>
<line x1="68.83" y1="238.1" x2="68.83" y2="240.9" stroke="#222" stroke-width="0.8"/>
<text x="71.42" y="249.60" font-size="6.65" fill="#333" text-anchor="end" transform="rotate(-45 71.42 249.60)">Stage III–IV</text>
<line x1="79.08" y1="238.1" x2="79.08" y2="240.9" stroke="#222" stroke-width="0.8"/>
<text x="81.67" y="249.60" font-size="6.65" fill="#333" text-anchor="end" transform="rotate(-45 81.67 249.60)">LDH Ratio &gt; 1</text>
<line x1="89.33" y1="238.1" x2="89.33" y2="240.9" stroke="#222" stroke-width="0.8"/>
<text x="91.92" y="249.60" font-size="6.65" fill="#333" text-anchor="end" transform="rotate(-45 91.92 249.60)">Extranodal Sites &gt; 1</text>
<line x1="99.58" y1="238.1" x2="99.58" y2="240.9" stroke="#222" stroke-width="0.8"/>
<text x="102.17" y="249.60" font-size="6.65" fill="#333" text-anchor="end" transform="rotate(-45 102.17 249.60)">ECOG PS &gt; 1</text>
<line x1="109.83" y1="238.1" x2="109.83" y2="240.9" stroke="#222" stroke-width="0.8"/>
<text x="112.42" y="249.60" font-size="6.65" fill="#333" text-anchor="end" transform="rotate(-45 112.42 249.60)">IPI High (3–5)</text>
<text x="136.7" y="141.6" font-size="6.6" fill="#222" text-anchor="middle">FISH</text>
<rect x="121.00" y="170.81" width="10.20" height="21.39" fill="#1f4d8d" stroke="#0c2347" stroke-width="0.7"/>
<text transform="translate(126.10 168.41) scale(1.1 1)" font-size="6.5" fill="#333" text-anchor="middle">47</text>
<rect x="122.00" y="172.59" width="1.45" height="1.45" fill="#dce8f8"/>
<rect x="124.25" y="172.59" width="1.45" height="1.45" fill="#dce8f8"/>
<rect x="126.50" y="172.59" width="1.45" height="1.45" fill="#dce8f8"/>
<rect x="128.75" y="172.59" width="1.45" height="1.45" fill="#dce8f8"/>
<rect x="131.20" y="188.56" width="10.20" height="3.64" fill="#1f4d8d" stroke="#0c2347" stroke-width="0.7"/>
<text transform="translate(136.30 186.16) scale(1.1 1)" font-size="6.5" fill="#333" text-anchor="middle">8</text>
<rect x="141.40" y="186.28" width="10.20" height="5.92" fill="#1f4d8d" stroke="#0c2347" stroke-width="0.7"/>
<text transform="translate(146.50 183.88) scale(1.1 1)" font-size="6.5" fill="#333" text-anchor="middle">13</text>
<rect x="121.00" y="192.20" width="10.20" height="2.73" fill="#3e9343" stroke="#1a4f1d" stroke-width="0.7"/>
<text transform="translate(126.10 201.83) scale(1.1 1)" font-size="6.5" fill="#333" text-anchor="middle">6</text>
<rect x="131.20" y="192.20" width="10.20" height="10.01" fill="#3e9343" stroke="#1a4f1d" stroke-width="0.7"/>
<text transform="translate(136.30 209.11) scale(1.1 1)" font-size="6.5" fill="#333" text-anchor="middle">22</text>
<rect x="134.45" y="198.68" width="1.45" height="1.45" fill="#d8f0d0"/>
<rect x="136.70" y="198.68" width="1.45" height="1.45" fill="#d8f0d0"/>
<rect x="141.40" y="192.20" width="10.20" height="12.29" fill="#3e9343" stroke="#1a4f1d" stroke-width="0.7"/>
<text transform="translate(146.50 211.38) scale(1.1 1)" font-size="6.5" fill="#333" text-anchor="middle">27</text>
<rect x="144.65" y="200.96" width="1.45" height="1.45" fill="#d8f0d0"/>
<rect x="146.90" y="200.96" width="1.45" height="1.45" fill="#d8f0d0"/>
<line x1="117.9" y1="146.6" x2="117.9" y2="238.1" stroke="#777" stroke-width="1.1"/>
<line x1="126.10" y1="238.1" x2="126.10" y2="240.9" stroke="#222" stroke-width="0.8"/>
<text x="128.70" y="249.60" font-size="6.65" fill="#333" text-anchor="end" transform="rotate(-45 128.70 249.60)">MYC</text>
<line x1="136.30" y1="238.1" x2="136.30" y2="240.9" stroke="#222" stroke-width="0.8"/>
<text x="138.90" y="249.60" font-size="6.65" fill="#333" text-anchor="end" transform="rotate(-45 138.90 249.60)">BCL2</text>
<line x1="146.50" y1="238.1" x2="146.50" y2="240.9" stroke="#222" stroke-width="0.8"/>
<text x="149.10" y="249.60" font-size="6.65" fill="#333" text-anchor="end" transform="rotate(-45 149.10 249.60)">BCL6</text>
<text x="188.6" y="141.6" font-size="6.6" fill="#222" text-anchor="middle">IHC</text>
<rect x="157.80" y="163.53" width="10.27" height="28.67" fill="#1f4d8d" stroke="#0c2347" stroke-width="0.7"/>
<text transform="translate(162.94 161.13) scale(1.1 1)" font-size="6.5" fill="#333" text-anchor="middle">63</text>
<rect x="158.84" y="165.31" width="1.45" height="1.45" fill="#dce8f8"/>
<rect x="161.09" y="165.31" width="1.45" height="1.45" fill="#dce8f8"/>
<rect x="163.34" y="165.31" width="1.45" height="1.45" fill="#dce8f8"/>
<rect x="165.59" y="165.31" width="1.45" height="1.45" fill="#dce8f8"/>
<rect x="168.07" y="166.26" width="10.27" height="25.94" fill="#1f4d8d" stroke="#0c2347" stroke-width="0.7"/>
<text transform="translate(173.21 163.86) scale(1.1 1)" font-size="6.5" fill="#333" text-anchor="middle">57</text>
<rect x="178.34" y="158.53" width="10.27" height="33.67" fill="#1f4d8d" stroke="#0c2347" stroke-width="0.7"/>
<text transform="translate(183.47 156.13) scale(1.1 1)" font-size="6.5" fill="#333" text-anchor="middle">74</text>
<rect x="179.38" y="160.30" width="1.45" height="1.45" fill="#dce8f8"/>
<rect x="181.62" y="160.30" width="1.45" height="1.45" fill="#dce8f8"/>
<rect x="183.88" y="160.30" width="1.45" height="1.45" fill="#dce8f8"/>
<rect x="186.12" y="160.30" width="1.45" height="1.45" fill="#dce8f8"/>
<rect x="188.61" y="156.71" width="10.27" height="35.49" fill="#1f4d8d" stroke="#0c2347" stroke-width="0.7"/>
<text transform="translate(193.75 154.31) scale(1.1 1)" font-size="6.5" fill="#333" text-anchor="middle">78</text>
<rect x="198.88" y="170.81" width="10.27" height="21.39" fill="#1f4d8d" stroke="#0c2347" stroke-width="0.7"/>
<text transform="translate(204.01 168.41) scale(1.1 1)" font-size="6.5" fill="#333" text-anchor="middle">47</text>
<rect x="209.15" y="154.89" width="10.27" height="37.31" fill="#1f4d8d" stroke="#0c2347" stroke-width="0.7"/>
<text transform="translate(214.28 152.49) scale(1.1 1)" font-size="6.5" fill="#333" text-anchor="middle">82</text>
<rect x="210.19" y="156.66" width="1.45" height="1.45" fill="#dce8f8"/>
<rect x="212.44" y="156.66" width="1.45" height="1.45" fill="#dce8f8"/>
<rect x="214.69" y="156.66" width="1.45" height="1.45" fill="#dce8f8"/>
<rect x="216.94" y="156.66" width="1.45" height="1.45" fill="#dce8f8"/>
<rect x="157.80" y="192.20" width="10.27" height="14.11" fill="#3e9343" stroke="#1a4f1d" stroke-width="0.7"/>
<text transform="translate(162.94 213.20) scale(1.1 1)" font-size="6.5" fill="#333" text-anchor="middle">31</text>
<rect x="168.07" y="192.20" width="10.27" height="32.30" fill="#3e9343" stroke="#1a4f1d" stroke-width="0.7"/>
<text transform="translate(173.21 231.41) scale(1.1 1)" font-size="6.5" fill="#333" text-anchor="middle">71</text>
<rect x="171.36" y="220.98" width="1.45" height="1.45" fill="#d8f0d0"/>
<rect x="173.61" y="220.98" width="1.45" height="1.45" fill="#d8f0d0"/>
<rect x="178.34" y="192.20" width="10.27" height="18.20" fill="#3e9343" stroke="#1a4f1d" stroke-width="0.7"/>
<text transform="translate(183.47 217.30) scale(1.1 1)" font-size="6.5" fill="#333" text-anchor="middle">40</text>
<rect x="188.61" y="192.20" width="10.27" height="35.49" fill="#3e9343" stroke="#1a4f1d" stroke-width="0.7"/>
<text transform="translate(193.75 234.59) scale(1.1 1)" font-size="6.5" fill="#333" text-anchor="middle">78</text>
<rect x="198.88" y="192.20" width="10.27" height="20.93" fill="#3e9343" stroke="#1a4f1d" stroke-width="0.7"/>
<text transform="translate(204.01 220.03) scale(1.1 1)" font-size="6.5" fill="#333" text-anchor="middle">46</text>
<rect x="209.15" y="192.20" width="10.27" height="25.94" fill="#3e9343" stroke="#1a4f1d" stroke-width="0.7"/>
<text transform="translate(214.28 225.03) scale(1.1 1)" font-size="6.5" fill="#333" text-anchor="middle">57</text>
<line x1="154.6" y1="146.6" x2="154.6" y2="238.1" stroke="#777" stroke-width="1.1"/>
<line x1="162.94" y1="238.1" x2="162.94" y2="240.9" stroke="#222" stroke-width="0.8"/>
<text x="165.53" y="249.60" font-size="6.65" fill="#333" text-anchor="end" transform="rotate(-45 165.53 249.60)">MYC</text>
<line x1="173.21" y1="238.1" x2="173.21" y2="240.9" stroke="#222" stroke-width="0.8"/>
<text x="175.81" y="249.60" font-size="6.65" fill="#333" text-anchor="end" transform="rotate(-45 175.81 249.60)">BCL2</text>
<line x1="183.48" y1="238.1" x2="183.48" y2="240.9" stroke="#222" stroke-width="0.8"/>
<text x="186.08" y="249.60" font-size="6.65" fill="#333" text-anchor="end" transform="rotate(-45 186.08 249.60)">CD10</text>
<line x1="193.75" y1="238.1" x2="193.75" y2="240.9" stroke="#222" stroke-width="0.8"/>
<text x="196.34" y="249.60" font-size="6.65" fill="#333" text-anchor="end" transform="rotate(-45 196.34 249.60)">BCL6</text>
<line x1="204.02" y1="238.1" x2="204.02" y2="240.9" stroke="#222" stroke-width="0.8"/>
<text x="206.62" y="249.60" font-size="6.65" fill="#333" text-anchor="end" transform="rotate(-45 206.62 249.60)">MUM1</text>
<line x1="214.29" y1="238.1" x2="214.29" y2="240.9" stroke="#222" stroke-width="0.8"/>
<text x="216.89" y="249.60" font-size="6.65" fill="#333" text-anchor="end" transform="rotate(-45 216.89 249.60)">Hans GCB</text>
<text x="245.6" y="141.6" font-size="6.6" fill="#222" text-anchor="middle">Refined COO</text>
<rect x="225.30" y="171.72" width="10.20" height="20.48" fill="#1f4d8d" stroke="#0c2347" stroke-width="0.7"/>
<text transform="translate(230.40 169.32) scale(1.1 1)" font-size="6.5" fill="#333" text-anchor="middle">45</text>
<rect x="235.50" y="182.19" width="10.20" height="10.01" fill="#1f4d8d" stroke="#0c2347" stroke-width="0.7"/>
<text transform="translate(240.60 179.79) scale(1.1 1)" font-size="6.5" fill="#333" text-anchor="middle">22</text>
<rect x="245.70" y="188.10" width="10.20" height="4.09" fill="#1f4d8d" stroke="#0c2347" stroke-width="0.7"/>
<text transform="translate(250.80 185.70) scale(1.1 1)" font-size="6.5" fill="#333" text-anchor="middle">9</text>
<rect x="255.90" y="180.82" width="10.20" height="11.38" fill="#1f4d8d" stroke="#0c2347" stroke-width="0.7"/>
<text transform="translate(261.00 178.42) scale(1.1 1)" font-size="6.5" fill="#333" text-anchor="middle">25</text>
<rect x="225.30" y="192.20" width="10.20" height="3.19" fill="#3e9343" stroke="#1a4f1d" stroke-width="0.7"/>
<text transform="translate(230.40 202.28) scale(1.1 1)" font-size="6.5" fill="#333" text-anchor="middle">7</text>
<rect x="235.50" y="192.20" width="10.20" height="19.57" fill="#3e9343" stroke="#1a4f1d" stroke-width="0.7"/>
<text transform="translate(240.60 218.66) scale(1.1 1)" font-size="6.5" fill="#333" text-anchor="middle">43</text>
<rect x="237.62" y="208.24" width="1.45" height="1.45" fill="#5fa862"/>
<rect x="239.88" y="208.24" width="1.45" height="1.45" fill="#5fa862"/>
<rect x="242.12" y="208.24" width="1.45" height="1.45" fill="#5fa862"/>
<rect x="245.70" y="192.20" width="10.20" height="5.00" fill="#3e9343" stroke="#1a4f1d" stroke-width="0.7"/>
<text transform="translate(250.80 204.10) scale(1.1 1)" font-size="6.5" fill="#333" text-anchor="middle">11</text>
<rect x="255.90" y="192.20" width="10.20" height="17.29" fill="#3e9343" stroke="#1a4f1d" stroke-width="0.7"/>
<text transform="translate(261.00 216.39) scale(1.1 1)" font-size="6.5" fill="#333" text-anchor="middle">38</text>
<rect x="258.02" y="205.96" width="1.45" height="1.45" fill="#5fa862"/>
<rect x="260.27" y="205.96" width="1.45" height="1.45" fill="#5fa862"/>
<rect x="262.52" y="205.96" width="1.45" height="1.45" fill="#5fa862"/>
<rect x="242.53" y="152.53" width="1.55" height="1.55" fill="#222"/>
<rect x="245.03" y="152.53" width="1.55" height="1.55" fill="#222"/>
<rect x="247.53" y="152.53" width="1.55" height="1.55" fill="#222"/>
<line x1="222.1" y1="146.6" x2="222.1" y2="238.1" stroke="#777" stroke-width="1.1"/>
<line x1="230.40" y1="238.1" x2="230.40" y2="240.9" stroke="#222" stroke-width="0.8"/>
<text x="233.00" y="249.60" font-size="6.65" fill="#333" text-anchor="end" transform="rotate(-45 233.00 249.60)">DZ<tspan font-size="5.4" dy="0.9">sig</tspan><tspan font-size="5.4" dy="-2.6">+</tspan></text>
<line x1="240.60" y1="238.1" x2="240.60" y2="240.9" stroke="#222" stroke-width="0.8"/>
<text x="243.20" y="249.60" font-size="6.65" fill="#333" text-anchor="end" transform="rotate(-45 243.20 249.60)">GCB</text>
<line x1="250.80" y1="238.1" x2="250.80" y2="240.9" stroke="#222" stroke-width="0.8"/>
<text x="253.40" y="249.60" font-size="6.65" fill="#333" text-anchor="end" transform="rotate(-45 253.40 249.60)">UNCLASS</text>
<line x1="261.00" y1="238.1" x2="261.00" y2="240.9" stroke="#222" stroke-width="0.8"/>
<text x="263.60" y="249.60" font-size="6.65" fill="#333" text-anchor="end" transform="rotate(-45 263.60 249.60)">ABC</text>
<text x="308.0" y="141.6" font-size="6.6" fill="#222" text-anchor="middle">LymphGen</text>
<rect x="272.30" y="185.38" width="10.26" height="6.83" fill="#1f4d8d" stroke="#0c2347" stroke-width="0.7"/>
<text transform="translate(277.43 182.97) scale(1.1 1)" font-size="6.5" fill="#333" text-anchor="middle">15</text>
<rect x="282.56" y="189.92" width="10.26" height="2.27" fill="#1f4d8d" stroke="#0c2347" stroke-width="0.7"/>
<text transform="translate(287.69 187.52) scale(1.1 1)" font-size="6.5" fill="#333" text-anchor="middle">5</text>
<rect x="292.82" y="190.83" width="10.26" height="1.36" fill="#1f4d8d" stroke="#0c2347" stroke-width="0.7"/>
<text transform="translate(297.95 188.43) scale(1.1 1)" font-size="6.5" fill="#333" text-anchor="middle">3</text>
<rect x="303.08" y="187.65" width="10.26" height="4.55" fill="#1f4d8d" stroke="#0c2347" stroke-width="0.7"/>
<text transform="translate(308.21 185.25) scale(1.1 1)" font-size="6.5" fill="#333" text-anchor="middle">10</text>
<text transform="translate(318.47 189.80) scale(1.1 1)" font-size="6.5" fill="#333" text-anchor="middle">0</text>
<rect x="323.60" y="191.29" width="10.26" height="0.91" fill="#1f4d8d" stroke="#0c2347" stroke-width="0.7"/>
<text transform="translate(328.73 188.89) scale(1.1 1)" font-size="6.5" fill="#333" text-anchor="middle">2</text>
<rect x="333.86" y="162.17" width="10.26" height="30.03" fill="#1f4d8d" stroke="#0c2347" stroke-width="0.7"/>
<text transform="translate(338.99 159.77) scale(1.1 1)" font-size="6.5" fill="#333" text-anchor="middle">66</text>
<rect x="272.30" y="192.20" width="10.26" height="7.74" fill="#3e9343" stroke="#1a4f1d" stroke-width="0.7"/>
<text transform="translate(277.43 206.84) scale(1.1 1)" font-size="6.5" fill="#333" text-anchor="middle">17</text>
<rect x="282.56" y="192.20" width="10.26" height="6.37" fill="#3e9343" stroke="#1a4f1d" stroke-width="0.7"/>
<text transform="translate(287.69 205.47) scale(1.1 1)" font-size="6.5" fill="#333" text-anchor="middle">14</text>
<rect x="292.82" y="192.20" width="10.26" height="3.64" fill="#3e9343" stroke="#1a4f1d" stroke-width="0.7"/>
<text transform="translate(297.95 202.74) scale(1.1 1)" font-size="6.5" fill="#333" text-anchor="middle">8</text>
<rect x="296.10" y="192.31" width="1.45" height="1.45" fill="#d8f0d0"/>
<rect x="298.35" y="192.31" width="1.45" height="1.45" fill="#d8f0d0"/>
<rect x="303.08" y="192.20" width="10.26" height="6.37" fill="#3e9343" stroke="#1a4f1d" stroke-width="0.7"/>
<text transform="translate(308.21 205.47) scale(1.1 1)" font-size="6.5" fill="#333" text-anchor="middle">14</text>
<rect x="313.34" y="192.20" width="10.26" height="0.46" fill="#3e9343" stroke="#1a4f1d" stroke-width="0.7"/>
<text transform="translate(318.47 199.56) scale(1.1 1)" font-size="6.5" fill="#333" text-anchor="middle">1</text>
<rect x="323.60" y="192.20" width="10.26" height="5.46" fill="#3e9343" stroke="#1a4f1d" stroke-width="0.7"/>
<text transform="translate(328.73 204.56) scale(1.1 1)" font-size="6.5" fill="#333" text-anchor="middle">12</text>
<rect x="333.86" y="192.20" width="10.26" height="15.47" fill="#3e9343" stroke="#1a4f1d" stroke-width="0.7"/>
<text transform="translate(338.99 214.57) scale(1.1 1)" font-size="6.5" fill="#333" text-anchor="middle">34</text>
<rect x="304.73" y="152.53" width="1.55" height="1.55" fill="#222"/>
<rect x="307.23" y="152.53" width="1.55" height="1.55" fill="#222"/>
<rect x="309.73" y="152.53" width="1.55" height="1.55" fill="#222"/>
<line x1="269.6" y1="146.6" x2="269.6" y2="238.1" stroke="#777" stroke-width="1.1"/>
<line x1="277.43" y1="238.1" x2="277.43" y2="240.9" stroke="#222" stroke-width="0.8"/>
<text x="280.03" y="249.60" font-size="6.65" fill="#333" text-anchor="end" transform="rotate(-45 280.03 249.60)">EZB</text>
<line x1="287.69" y1="238.1" x2="287.69" y2="240.9" stroke="#222" stroke-width="0.8"/>
<text x="290.29" y="249.60" font-size="6.65" fill="#333" text-anchor="end" transform="rotate(-45 290.29 249.60)">ST2</text>
<line x1="297.95" y1="238.1" x2="297.95" y2="240.9" stroke="#222" stroke-width="0.8"/>
<text x="300.55" y="249.60" font-size="6.65" fill="#333" text-anchor="end" transform="rotate(-45 300.55 249.60)">BN2</text>
<line x1="308.21" y1="238.1" x2="308.21" y2="240.9" stroke="#222" stroke-width="0.8"/>
<text x="310.81" y="249.60" font-size="6.65" fill="#333" text-anchor="end" transform="rotate(-45 310.81 249.60)">MCD</text>
<line x1="318.47" y1="238.1" x2="318.47" y2="240.9" stroke="#222" stroke-width="0.8"/>
<text x="321.07" y="249.60" font-size="6.65" fill="#333" text-anchor="end" transform="rotate(-45 321.07 249.60)">N1</text>
<line x1="328.73" y1="238.1" x2="328.73" y2="240.9" stroke="#222" stroke-width="0.8"/>
<text x="331.33" y="249.60" font-size="6.65" fill="#333" text-anchor="end" transform="rotate(-45 331.33 249.60)">COMP</text>
<line x1="338.99" y1="238.1" x2="338.99" y2="240.9" stroke="#222" stroke-width="0.8"/>
<text x="341.59" y="249.60" font-size="6.65" fill="#333" text-anchor="end" transform="rotate(-45 341.59 249.60)">Other</text>
<line x1="40.2" y1="192.2" x2="346.5" y2="192.2" stroke="#111" stroke-width="0.8"/>
<line x1="36.4" y1="238.1" x2="346.5" y2="238.1" stroke="#222" stroke-width="1.1"/>
<line x1="36.6" y1="146.50" x2="40.2" y2="146.50" stroke="#222" stroke-width="0.8"/>
<text transform="translate(34.2 148.85) scale(1.1 1)" font-size="6.5" fill="#333" text-anchor="end">100</text>
<line x1="36.6" y1="157.97" x2="40.2" y2="157.97" stroke="#222" stroke-width="0.8"/>
<text transform="translate(34.2 160.32) scale(1.1 1)" font-size="6.5" fill="#333" text-anchor="end">75</text>
<line x1="36.6" y1="169.45" x2="40.2" y2="169.45" stroke="#222" stroke-width="0.8"/>
<text transform="translate(34.2 171.80) scale(1.1 1)" font-size="6.5" fill="#333" text-anchor="end">50</text>
<line x1="36.6" y1="180.93" x2="40.2" y2="180.93" stroke="#222" stroke-width="0.8"/>
<text transform="translate(34.2 183.28) scale(1.1 1)" font-size="6.5" fill="#333" text-anchor="end">25</text>
<line x1="36.6" y1="192.40" x2="40.2" y2="192.40" stroke="#222" stroke-width="0.8"/>
<text transform="translate(34.2 194.75) scale(1.1 1)" font-size="6.5" fill="#333" text-anchor="end">0</text>
<line x1="36.6" y1="203.88" x2="40.2" y2="203.88" stroke="#222" stroke-width="0.8"/>
<text transform="translate(34.2 206.22) scale(1.1 1)" font-size="6.5" fill="#333" text-anchor="end">25</text>
<line x1="36.6" y1="215.35" x2="40.2" y2="215.35" stroke="#222" stroke-width="0.8"/>
<text transform="translate(34.2 217.70) scale(1.1 1)" font-size="6.5" fill="#333" text-anchor="end">50</text>
<line x1="36.6" y1="226.82" x2="40.2" y2="226.82" stroke="#222" stroke-width="0.8"/>
<text transform="translate(34.2 229.17) scale(1.1 1)" font-size="6.5" fill="#333" text-anchor="end">75</text>
<line x1="36.6" y1="238.30" x2="40.2" y2="238.30" stroke="#222" stroke-width="0.8"/>
<text transform="translate(34.2 240.65) scale(1.1 1)" font-size="6.5" fill="#333" text-anchor="end">100</text>
<text x="0" y="0" font-size="7" fill="#333" text-anchor="middle" transform="translate(16.2 192.2) rotate(-90)">Percent</text>
<rect x="348.4" y="146.2" width="9.2" height="46.00" fill="#1f4d8d"/>
<rect x="348.4" y="192.20" width="9.2" height="45.40" fill="#3e9343"/>
<text x="0" y="0" font-size="5.9" fill="#fff" text-anchor="middle" transform="translate(350.9 169.7) rotate(90)">HGBCL-NOS</text>
<text x="0" y="0" font-size="5.8" fill="#fff" text-anchor="middle" transform="translate(350.9 215.6) rotate(90)">DLBCL-NOS</text>
<text x="381.5" y="135.8" font-size="11.8" font-weight="bold" fill="#111">C</text>
<path d="M428.8,140.1 C448.56,140.1 433.74,140.1 453.5,140.1 L453.5,181.7 C433.74,181.7 448.56,181.7 428.8,181.7 Z" fill="#f28f12"/>
<path d="M428.8,181.3 C448.56,181.3 433.74,188.5 453.5,188.5 L453.5,211.3 C433.74,211.3 448.56,204.1 428.8,204.1 Z" fill="#f28f12"/>
<path d="M428.8,203.7 C448.56,203.7 433.74,181.3 453.5,181.3 L453.5,188.5 C433.74,188.5 448.56,210.9 428.8,210.9 Z" fill="#1e763b"/>
<path d="M428.8,210.9 C448.56,210.9 433.74,210.9 453.5,210.9 L453.5,221.1 C433.74,221.1 448.56,221.1 428.8,221.1 Z" fill="#1e763b"/>
<path d="M428.8,221.1 C448.56,221.1 433.74,221.1 453.5,221.1 L453.5,247.0 C433.74,247.0 448.56,247.0 428.8,247.0 Z" fill="#42ade0"/>
<rect x="403.1" y="140.1" width="25.70" height="63.60" fill="#f28f12"/>
<rect x="403.1" y="203.7" width="25.70" height="17.40" fill="#1e763b"/>
<rect x="403.1" y="221.1" width="25.70" height="25.90" fill="#42ade0"/>
<rect x="403.1" y="140.1" width="25.70" height="106.90" fill="none" stroke="#3a2a1a" stroke-width="0.6"/>
<rect x="453.5" y="140.1" width="25.40" height="48.40" fill="#d7171d"/>
<rect x="453.5" y="188.5" width="25.40" height="22.40" fill="#f28f12"/>
<rect x="453.5" y="210.9" width="25.40" height="10.20" fill="#1e763b"/>
<rect x="453.5" y="221.1" width="25.40" height="25.90" fill="#42ade0"/>
<rect x="453.5" y="140.1" width="25.40" height="106.90" fill="none" stroke="#3a2a1a" stroke-width="0.6"/>
<text x="415.9" y="173.8" font-size="7" fill="#f2f2f2" text-anchor="middle">GCB</text>
<text x="415.9" y="214.3" font-size="7" fill="#f2f2f2" text-anchor="middle">UNC</text>
<text x="415.9" y="235.4" font-size="7" fill="#f2f2f2" text-anchor="middle">ABC</text>
<text x="466.2" y="166.4" font-size="7" fill="#f2f2f2" text-anchor="middle">DZsig+</text>
<text x="466.2" y="202.1" font-size="7" fill="#f2f2f2" text-anchor="middle">GCB</text>
<text x="466.2" y="218.0" font-size="7" fill="#f2f2f2" text-anchor="middle">UNC</text>
<text x="466.2" y="235.4" font-size="7" fill="#f2f2f2" text-anchor="middle">ABC</text>
<text x="399.2" y="256.7" font-size="7" fill="#333" text-anchor="middle">COO</text>
<text x="466.2" y="256.7" font-size="7" fill="#333" text-anchor="middle">Refined COO</text>
<rect x="0.5" y="0.5" width="519" height="297" fill="none" stroke="#4a4a4a" stroke-width="1"/>
</svg>
</body></html>
